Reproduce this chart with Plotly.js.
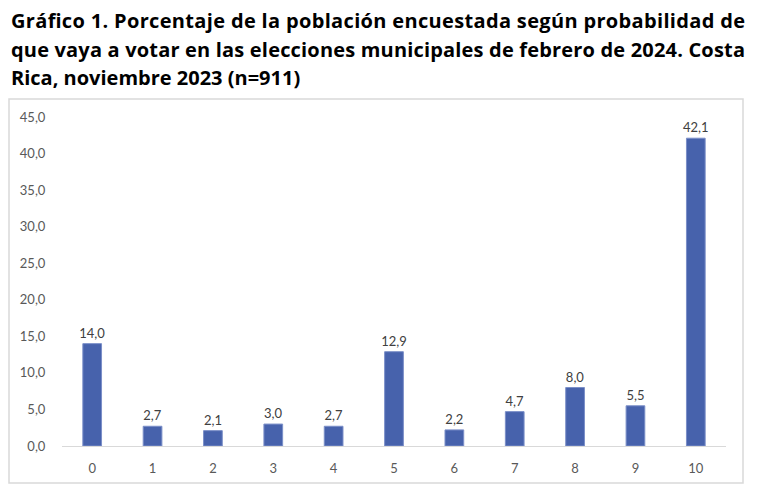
<!DOCTYPE html>
<html>
<head>
<meta charset="utf-8">
<script src="https://cdn.plot.ly/plotly-3.0.1.min.js"></script>
<style>
  html, body { margin: 0; padding: 0; background: #fff; }
  #chart { width: 763px; height: 492px; }
</style>
</head>
<body>
<div id="chart"></div>
<script>
// probabilidad de votar (0-10) y porcentaje de la población
const categories = ['0', '1', '2', '3', '4', '5', '6', '7', '8', '9', '10'];
const percentages = [14.0, 2.7, 2.1, 3.0, 2.7, 12.9, 2.2, 4.7, 8.0, 5.5, 42.1];
const yTicks = [0, 5, 10, 15, 20, 25, 30, 35, 40, 45];
const titleLines = [
    'Gráfico 1. Porcentaje de la población encuestada según probabilidad de',
    'que vaya a votar en las elecciones municipales de febrero de 2024. Costa',
    'Rica, noviembre 2023 (n=911)'
];

// plot area in pixels
const W = 763, H = 492;
const plotL = 62, plotR = 726, plotT = 117, plotB = 446;
const pw = plotR - plotL, ph = plotB - plotT;
const px = x => (x - plotL) / pw;
const py = y => (plotB - y) / ph;

const data = [{
    x: categories,
    y: percentages,
    type: 'bar',
    marker: {
        color: '#4762AC',
        line: { color: '#7b8fc8', width: 1 },
    },
    texttemplate: '%{y:.1f}',
    textposition: 'outside',
    constraintext: 'none',
    cliponaxis: false,
    textfont: { family: 'Lato, sans-serif', size: 13, color: '#404040' },
    hoverinfo: 'skip',
}];

const titleBaselines = [21, 49, 77];
const annotations = titleLines.map((line, i) => ({
    text: '<b>' + line + '</b>',
    xref: 'paper', yref: 'paper',
    x: px(9), y: py(titleBaselines[i]),
    xanchor: 'left', yanchor: 'middle',
    align: 'left',
    showarrow: false,
    font: { family: '"Open Sans", sans-serif', size: 20, color: '#000000' },
}));

const layout = {
    width: W,
    height: H,
    margin: { l: plotL, r: W - plotR, t: plotT, b: H - plotB, pad: 0 },
    paper_bgcolor: '#ffffff',
    plot_bgcolor: '#ffffff',
    separators: ',.',
    showlegend: false,
    bargap: 0.69,
    font: { family: 'Lato, sans-serif', size: 13, color: '#595959' },
    xaxis: {
        type: 'category',
        showline: true,
        linecolor: '#d9d9d9',
        linewidth: 1,
        showgrid: false,
        zeroline: false,
        ticks: 'outside',
        ticklen: 10,
        tickcolor: 'rgba(0,0,0,0)',
        tickfont: { size: 13, color: '#595959' },
    },
    yaxis: {
        range: [0, 45],
        tickvals: yTicks,
        tickformat: '.1f',
        showline: false,
        showgrid: false,
        zeroline: false,
        ticks: 'outside',
        ticklen: 13,
        tickcolor: 'rgba(0,0,0,0)',
        tickfont: { size: 13, color: '#595959' },
    },
    shapes: [{
        type: 'rect',
        xref: 'paper', yref: 'paper',
        x0: px(9), x1: px(743),
        y0: py(483), y1: py(99),
        line: { color: '#d9d9d9', width: 1.5 },
        fillcolor: 'rgba(0,0,0,0)',
        layer: 'below',
    }],
    annotations: annotations,
};

Plotly.newPlot('chart', data, layout, { displayModeBar: false, staticPlot: true }).then(() => {
    // justify the first two title lines like the original
    const texts = document.querySelectorAll('#chart .annotation-text');
    texts.forEach((t, i) => {
        if (i < 2) {
            t.setAttribute('textLength', 734);
            t.setAttribute('lengthAdjust', 'spacing');
        }
    });
});
</script>
</body>
</html>
